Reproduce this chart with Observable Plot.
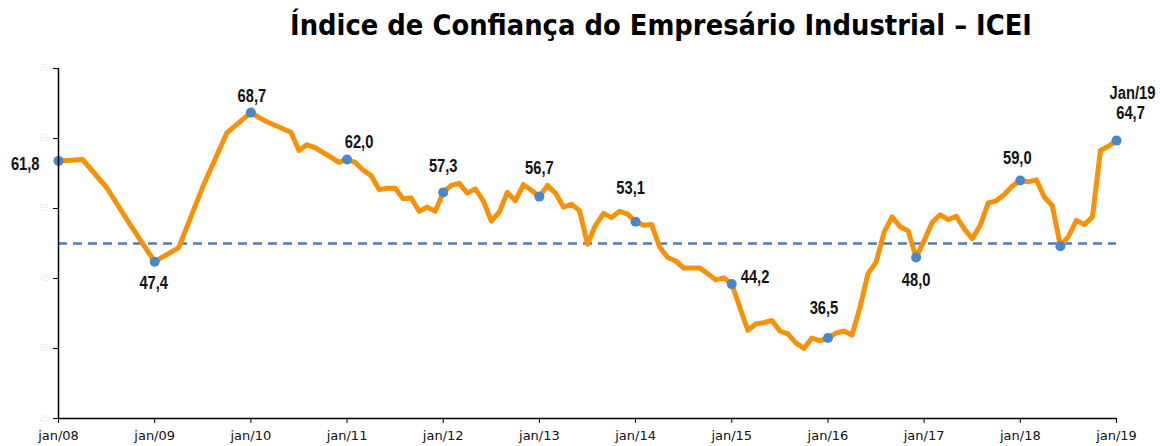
<!DOCTYPE html>
<html><head><meta charset="utf-8">
<script src="https://cdn.jsdelivr.net/npm/d3@7"></script>
<script src="https://cdn.jsdelivr.net/npm/@observablehq/plot@0.6"></script>
<style>
body{margin:0;background:#fff;}
#wrap{width:1160px;height:446px;position:relative;overflow:hidden;}
#titlebox{height:50px;position:relative;}
#title{position:absolute;left:290px;top:12px;font-family:"DejaVu Sans",sans-serif;font-weight:bold;font-size:28px;line-height:1;white-space:nowrap;color:#000;transform-origin:0 0;}
#chart svg{display:block;}
</style></head><body>
<div id="wrap">
<div id="titlebox"><div id="title">Índice de Confiança do Empresário Industrial – ICEI</div></div>
<div id="chart"></div>
</div>
<script>
// ---- data ----
const months = [
 "2008-01","2008-04","2008-07","2008-10",
 "2009-01","2009-04","2009-07","2009-10",
 "2010-01","2010-02","2010-03","2010-04","2010-05","2010-06","2010-07","2010-08","2010-09","2010-10","2010-11","2010-12",
 "2011-01","2011-02","2011-03","2011-04","2011-05","2011-06","2011-07","2011-08","2011-09","2011-10","2011-11","2011-12",
 "2012-01","2012-02","2012-03","2012-04","2012-05","2012-06","2012-07","2012-08","2012-09","2012-10","2012-11","2012-12",
 "2013-01","2013-02","2013-03","2013-04","2013-05","2013-06","2013-07","2013-08","2013-09","2013-10","2013-11","2013-12",
 "2014-01","2014-02","2014-03","2014-04","2014-05","2014-06","2014-07","2014-08","2014-09","2014-10","2014-11","2014-12",
 "2015-01","2015-02","2015-03","2015-04","2015-05","2015-06","2015-07","2015-08","2015-09","2015-10","2015-11","2015-12",
 "2016-01","2016-02","2016-03","2016-04","2016-05","2016-06","2016-07","2016-08","2016-09","2016-10","2016-11","2016-12",
 "2017-01","2017-02","2017-03","2017-04","2017-05","2017-06","2017-07","2017-08","2017-09","2017-10","2017-11","2017-12",
 "2018-01","2018-02","2018-03","2018-04","2018-05","2018-06","2018-07","2018-08","2018-09","2018-10","2018-11","2018-12",
 "2019-01"
];
const icei = [
 61.8, 62.0, 58.0, 52.6,
 47.4, 49.4, 58.1, 65.8,
 68.7, 68.0, 67.4, 66.9, 66.4, 65.9, 63.3, 64.1, 63.7, 63.0, 62.3, 61.6,
 62.0, 61.6, 60.5, 59.7, 57.7, 57.9, 57.9, 56.4, 56.5, 54.6, 55.2, 54.6,
 57.3, 58.3, 58.6, 57.2, 57.8, 56.1, 53.2, 54.5, 57.3, 56.1, 58.4, 57.6,
 56.7, 58.3, 57.2, 55.2, 55.6, 54.7, 49.9, 52.6, 54.3, 53.7, 54.6, 54.2,
 53.1, 52.6, 52.7, 49.5, 48.0, 47.5, 46.5, 46.5, 46.5, 45.7, 44.8, 45.1,
 44.2, 40.9, 37.6, 38.5, 38.7, 39.0, 37.5, 37.1, 35.8, 35.0, 36.5, 36.1,
 36.5, 37.2, 37.5, 36.9, 40.9, 45.7, 47.3, 51.6, 53.8, 52.4, 51.8, 48.0,
 50.4, 53.0, 54.1, 53.4, 53.9, 52.1, 50.7, 52.6, 55.8, 56.1, 57.0, 58.2,
 59.0, 58.8, 59.1, 56.6, 55.4, 49.6, 51.0, 53.3, 52.7, 53.8, 63.3, 63.9,
 64.7
];
const markedMonths = ["2008-01","2009-01","2010-01","2011-01","2012-01","2013-01","2014-01","2015-01","2016-01","2016-12","2018-01","2018-06","2019-01"];
const labelledMonths = ["2008-01","2009-01","2010-01","2011-01","2012-01","2013-01","2014-01","2015-01","2016-01","2016-12","2018-01","2019-01"];
const lastLabel = "Jan/19";
const referenceLevel = 50;
const yTicks = [25, 35, 45, 55, 65, 75];
const xTickLabels = ["jan/08","jan/09","jan/10","jan/11","jan/12","jan/13","jan/14","jan/15","jan/16","jan/17","jan/18","jan/19"];

// ---- build ----
const monthIndex = m => (+m.slice(0,4) - 2008) * 12 + (+m.slice(5,7) - 1);
const rows = months.map((m, i) => ({m, idx: monthIndex(m), v: icei[i]}));
const byMonth = new Map(rows.map(r => [r.m, r]));
const marked = markedMonths.map(m => byMonth.get(m));
const fmt = v => v.toFixed(1).replace(".", ",");

// label placement (rendering code, not data)
const place = {
 "2008-01": {dx:-19, dy:3, anchor:"end"},
 "2009-01": {dx:-1, dy:22},
 "2010-01": {dx:1, dy:-16},
 "2011-01": {dx:12, dy:-17},
 "2012-01": {dx:0, dy:-26},
 "2013-01": {dx:0, dy:-28},
 "2014-01": {dx:-5, dy:-33},
 "2015-01": {dx:9, dy:-7, anchor:"start"},
 "2016-01": {dx:-4, dy:-30},
 "2016-12": {dx:0, dy:23},
 "2018-01": {dx:-3, dy:-22},
 "2019-01": {dx:14, dy:-27}
};
const labelFont = {fontFamily:"'Liberation Sans',Arial,sans-serif", fontWeight:"bold", fontSize:17.5, fill:"#111", className:"narrowlbl"};
const labelMarks = labelledMonths.map(m => {
  const r = byMonth.get(m), p = place[m];
  return Plot.text([r], {x:"idx", y:"v", text: d => fmt(d.v), dx:p.dx, dy:p.dy, textAnchor:p.anchor || "middle", ...labelFont});
});
const last = byMonth.get(months[months.length-1]);

const chart = Plot.plot({
  width: 1160, height: 396,
  marginLeft: 58, marginRight: 44, marginTop: 18, marginBottom: 28,
  style: {background: "#fff"},
  x: {domain: [0, 132], type: "linear"},
  y: {domain: [25, 75]},
  marks: [
    Plot.ruleY([referenceLevel], {stroke:"#4a7ebb", strokeWidth:2.5, strokeDasharray:"9,6"}),
    Plot.line(rows, {x:"idx", y:"v", stroke:"#f5920a", strokeWidth:5, strokeLinejoin:"round", strokeLinecap:"round"}),
    Plot.dot(marked, {x:"idx", y:"v", r:5, fill:"#4a86c8", stroke:"none"}),
    ...labelMarks,
    Plot.text([last], {x:"idx", y:"v", text: () => lastLabel, dx:16, dy:-47, ...labelFont}),
    Plot.axisX({ticks: d3.range(0, 133, 12), tickFormat: d => xTickLabels[d/12], tickSize:5, tickPadding:7, stroke:"#000", fill:"#111", fontSize:13, fontFamily:"'DejaVu Sans',sans-serif", label:null}),
    Plot.axisY({ticks: yTicks, tickSize:5, tickPadding:4, stroke:"#000", fill:"#ececec", fontSize:9, label:null}),
    Plot.ruleX([0], {stroke:"#000", strokeWidth:1.5}),
    Plot.ruleY([25], {stroke:"#000", strokeWidth:1.5})
  ]
});
document.getElementById("chart").appendChild(chart);

// narrow (Arial Narrow–like) data labels: compress horizontally about each anchor point
chart.querySelectorAll("g.narrowlbl text").forEach(el => {
  const tr = el.getAttribute("transform") || "";
  el.setAttribute("transform", tr + " scale(0.84,1)");
});

// fit title width to the reference's span
const t = document.getElementById("title");
const w = t.getBoundingClientRect().width;
t.style.transform = `scaleX(${742 / w})`;
</script>
</body></html>
